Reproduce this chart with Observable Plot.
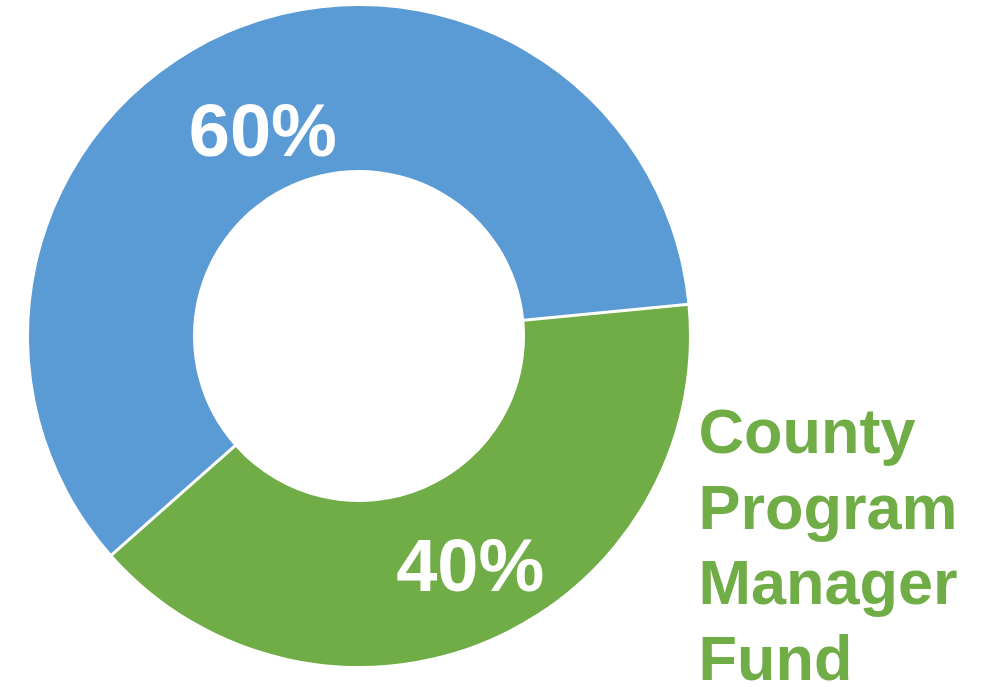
<!DOCTYPE html>
<html><head><meta charset="utf-8">
<script src="https://cdn.jsdelivr.net/npm/d3@7"></script>
<script src="https://cdn.jsdelivr.net/npm/@observablehq/plot@0.6"></script>
<style>html,body{margin:0;padding:0;background:#fff;overflow:hidden}#chart svg{display:block}</style>
</head><body><div id="chart"></div>
<script>
// ---- data ----
const categories = ["Other Funds", "County Program Manager Fund"];
const shares = [60, 40];
const labels = ["60%", "40%"];
const colors = ["#5b9bd5", "#70ad47"];
const legendLines = ["County", "Program", "Manager", "Fund"];

// ---- layout ----
const W = 984, H = 687;
const startDeg = 228.5;      // where the first slice begins (clockwise from 12 o'clock)
const innerRatio = 166 / 330;
const labelRadius = 0.73;
const labelShiftDeg = -2;

const data = categories.map((c, i) => ({category: c, value: shares[i], color: colors[i], label: labels[i]}));
const toRad = d => d * Math.PI / 180;
const pie = d3.pie().sort(null).value(d => d.value)
  .startAngle(toRad(startDeg)).endAngle(toRad(startDeg + 360));
const arcs = pie(data);

const labelData = arcs.map(a => {
  const m = (a.startAngle + a.endAngle) / 2 + toRad(labelShiftDeg);
  return {label: a.data.label, x: labelRadius * Math.sin(m), y: labelRadius * Math.cos(m)};
});

function donut(index, scales, values, dimensions) {
  let cx, cy, R;
  if (scales && typeof scales.x === "function") {
    cx = scales.x(0); cy = scales.y(0); R = scales.x(1) - scales.x(0);
  } else {
    const d = dimensions;
    cx = (d.marginLeft + d.width - d.marginRight) / 2;
    cy = (d.marginTop + d.height - d.marginBottom) / 2;
    R = (d.width - d.marginLeft - d.marginRight) / 2;
  }
  const g = d3.create("svg:g").attr("transform", `translate(${cx},${cy})`);
  const arc = d3.arc().innerRadius(R * innerRatio).outerRadius(R);
  g.selectAll("path").data(arcs).join("path")
    .attr("d", arc)
    .attr("fill", d => d.data.color);
  // white separators between slices
  arcs.forEach(a => {
    const t = a.startAngle;
    g.append("line")
      .attr("x1", R * innerRatio * Math.sin(t) * 0.98).attr("y1", -R * innerRatio * Math.cos(t) * 0.98)
      .attr("x2", R * Math.sin(t) * 1.02).attr("y2", -R * Math.cos(t) * 1.02)
      .attr("stroke", "#fff").attr("stroke-width", 3);
  });
  return g.node();
}

const mLeft = 29, mRight = W - 689, mTop = 6, mBottom = H - 666;
const xOf = px => ((px - mLeft) / (W - mLeft - mRight)) * 2 - 1;
const yOf = py => 1 - ((py - mTop) / (H - mTop - mBottom)) * 2;

const chart = Plot.plot({
  width: W, height: H,
  marginLeft: mLeft, marginRight: mRight, marginTop: mTop, marginBottom: mBottom,
  x: {domain: [-1, 1], axis: null},
  y: {domain: [-1, 1], axis: null},
  style: {background: "#fff", overflow: "visible"},
  marks: [
    donut,
    Plot.text(labelData, {
      x: "x", y: "y", text: "label", fill: "#fff",
      fontSize: 74, fontWeight: "bold", fontFamily: "Liberation Sans, Arial, sans-serif",
      dx: 7, dy: 13
    }),
    Plot.text([{t: legendLines.join("\n")}], {
      x: () => xOf(698), y: () => yOf(399), text: "t",
      textAnchor: "start", lineAnchor: "top", lineHeight: 1.2,
      fill: colors[1], fontSize: 63, fontWeight: "bold",
      fontFamily: "Liberation Sans, Arial, sans-serif", clip: false
    })
  ]
});
document.getElementById("chart").appendChild(chart);
</script>
</body></html>
